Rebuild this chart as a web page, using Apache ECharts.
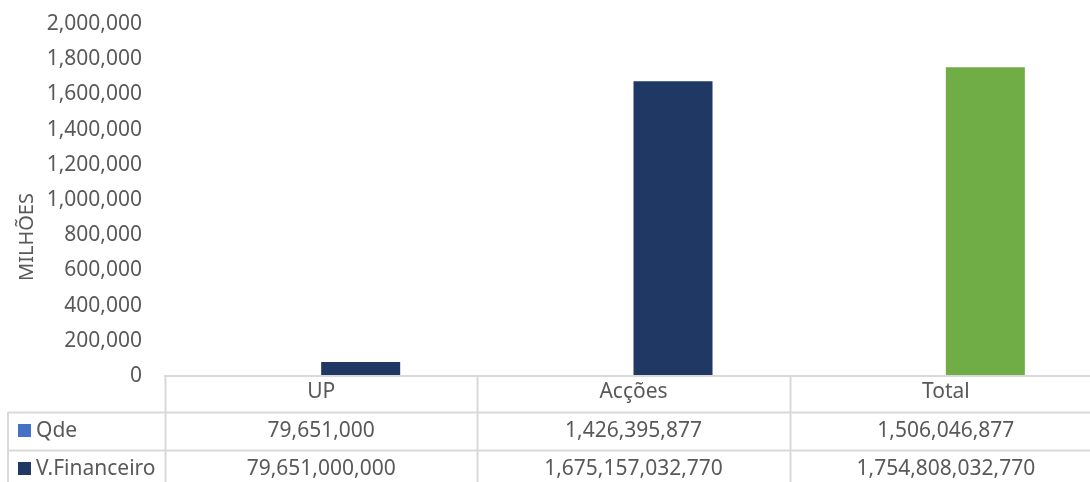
<!DOCTYPE html>
<html>
<head>
<meta charset="utf-8">
<script src="https://cdn.jsdelivr.net/npm/echarts@6/dist/echarts.min.js"></script>
<style>
  html, body { margin: 0; padding: 0; background: #ffffff; }
  #chart { width: 1090px; height: 482px; }
</style>
</head>
<body>
<div id="chart"></div>
<script>
// Categories and raw values (units), plotted in millions
const categories = ['UP', 'Acções', 'Total'];
const qdeValues = [79651000, 1426395877, 1506046877];
const financeiroValues = [79651000000, 1675157032770, 1754808032770];
const seriesNames = ['Qde', 'V.Financeiro'];
const yTicks = [0, 200000, 400000, 600000, 800000, 1000000, 1200000, 1400000, 1600000, 1800000, 2000000];

const FONT = 'Noto Sans';
const TEXT = '#595959';
const LINE = '#d9d9d9';
const QDE_COLOR = '#4472c4';
const FIN_COLOR = '#203864';
const TOTAL_COLOR = '#70ad47';

const fmt = v => v.toLocaleString('en-US');
const toMillions = v => v / 1e6;

const chart = echarts.init(document.getElementById('chart'));

chart.setOption({
  animation: false,
  backgroundColor: '#ffffff',
  grid: { left: 165, top: 24, bottom: 106, width: 937, outerBoundsMode: 'none', containLabel: false },
  xAxis: {
    type: 'category',
    data: categories,
    z: 3,
    axisLine: { show: true, lineStyle: { color: LINE, width: 2 } },
    axisTick: { show: false },
    axisLabel: { color: TEXT, fontFamily: FONT, fontSize: 21, margin: 6 }
  },
  yAxis: {
    type: 'value',
    min: yTicks[0],
    max: yTicks[yTicks.length - 1],
    interval: yTicks[1] - yTicks[0],
    splitLine: { show: false },
    axisLine: { show: false },
    axisTick: { show: false },
    axisLabel: {
      color: TEXT, fontFamily: FONT, fontSize: 21, margin: 23,
      formatter: v => fmt(v)
    }
  },
  series: [
    {
      name: seriesNames[0],
      type: 'bar',
      barGap: '0%',
      barCategoryGap: '49.4%',
      data: qdeValues.map((v, i) => ({
        value: toMillions(v),
        itemStyle: { color: i === categories.length - 1 ? TOTAL_COLOR : QDE_COLOR }
      }))
    },
    {
      name: seriesNames[1],
      type: 'bar',
      barGap: '0%',
      barCategoryGap: '49.4%',
      data: financeiroValues.map((v, i) => ({
        value: toMillions(v),
        itemStyle: { color: i === categories.length - 1 ? TOTAL_COLOR : FIN_COLOR }
      }))
    }
  ]
});

// Data table beneath the axis, aligned with the category bands
function buildTable() {
  const centers = categories.map(c => chart.convertToPixel({ xAxisIndex: 0 }, c));
  const band = centers[1] - centers[0];
  const x0 = centers[0] - band / 2;
  const xEnd = centers[centers.length - 1] + band / 2;
  const yAxisPx = chart.convertToPixel({ yAxisIndex: 0 }, 0);
  const headerBottom = yAxisPx + 36;
  const rowH = 38;
  const tableLeft = 8;
  const rows = [qdeValues, financeiroValues];
  const keyColors = [QDE_COLOR, FIN_COLOR];
  const els = [];
  const lineStyle = { stroke: LINE, lineWidth: 2 };
  const font = '21px "' + FONT + '"';

  // column separators
  for (let i = 0; i <= categories.length; i++) {
    const x = Math.round(x0 + band * i) + 0.5;
    els.push({ type: 'line', shape: { x1: x, y1: yAxisPx, x2: x, y2: headerBottom + rowH * rows.length }, style: lineStyle, silent: true });
  }
  // left border of row headers
  els.push({ type: 'line', shape: { x1: tableLeft, y1: headerBottom, x2: tableLeft, y2: headerBottom + rowH * rows.length }, style: lineStyle, silent: true });
  // row separators
  for (let r = 0; r <= rows.length; r++) {
    const y = Math.round(headerBottom + rowH * r) + 0.5;
    els.push({ type: 'line', shape: { x1: tableLeft, y1: y, x2: xEnd, y2: y }, style: lineStyle, silent: true });
  }
  // rows: legend key, series name, formatted values
  rows.forEach((vals, r) => {
    const cy = headerBottom + rowH * r + rowH / 2;
    els.push({ type: 'rect', shape: { x: 18, y: cy - 7, width: 13, height: 13 }, style: { fill: keyColors[r] }, silent: true });
    els.push({
      type: 'text', x: 36, y: cy,
      style: { text: seriesNames[r], fill: TEXT, font: font, textAlign: 'left', textVerticalAlign: 'middle' },
      silent: true
    });
    vals.forEach((v, i) => {
      els.push({
        type: 'text', x: centers[i], y: cy,
        style: { text: fmt(v), fill: TEXT, font: font, textAlign: 'center', textVerticalAlign: 'middle' },
        silent: true
      });
    });
  });
  // vertical axis title
  els.push({
    type: 'text', x: 27, y: 237, rotation: Math.PI / 2,
    style: { text: 'MILHÕES', fill: TEXT, font: '20px "' + FONT + '"', textAlign: 'center', textVerticalAlign: 'middle' },
    silent: true
  });
  chart.setOption({ graphic: { elements: els } });
}
buildTable();
</script>
</body>
</html>
